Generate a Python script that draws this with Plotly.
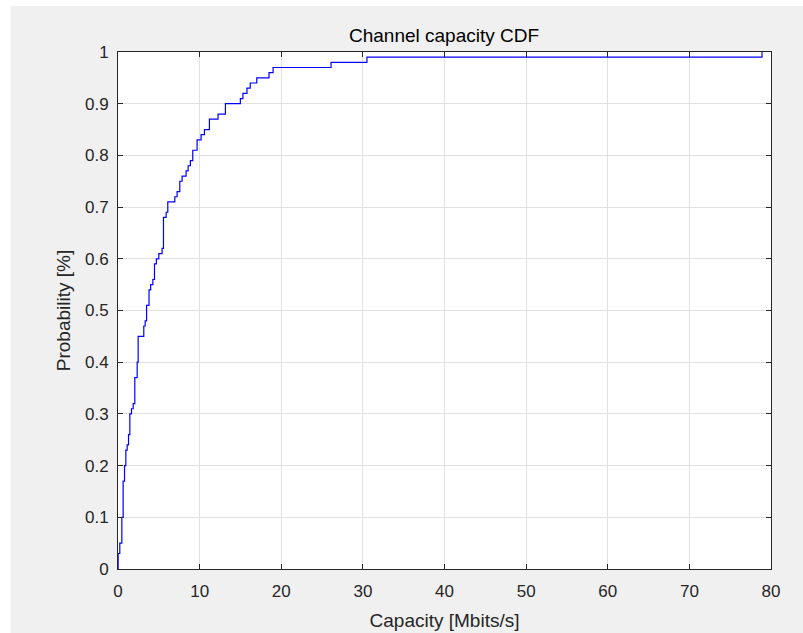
import plotly.graph_objects as go

# Step breakpoints of the empirical CDF (capacity in Mbits/s, cumulative probability)
capacity = [0.0, 0.02, 0.22, 0.47, 0.63, 0.80, 0.96, 1.12, 1.29, 1.45, 1.65, 1.86,
            2.06, 2.35, 2.47, 3.16, 3.33, 3.50, 3.80, 4.00, 4.27, 4.47, 4.70, 5.00,
            5.40, 5.57, 5.90, 6.10, 6.96, 7.24, 7.57, 7.85, 8.34, 8.59, 8.87, 9.16,
            9.69, 10.18, 10.59, 11.20, 12.26, 13.16, 14.99, 15.30, 15.80, 16.20,
            17.00, 18.50, 19.00, 26.10, 30.50, 78.90]
probability = [0.0, 0.03, 0.05, 0.10, 0.17, 0.20, 0.23, 0.24, 0.26, 0.30, 0.31, 0.32,
               0.37, 0.40, 0.45, 0.47, 0.48, 0.51, 0.54, 0.55, 0.56, 0.59, 0.60, 0.61,
               0.62, 0.68, 0.69, 0.71, 0.72, 0.73, 0.75, 0.76, 0.77, 0.78, 0.79, 0.81,
               0.83, 0.84, 0.85, 0.87, 0.88, 0.90, 0.91, 0.92, 0.93, 0.94,
               0.95, 0.96, 0.97, 0.98, 0.99, 1.00]

x_ticks = [0, 10, 20, 30, 40, 50, 60, 70, 80]
y_ticks = [0, 0.1, 0.2, 0.3, 0.4, 0.5, 0.6, 0.7, 0.8, 0.9, 1]
y_tick_labels = ["0", "0.1", "0.2", "0.3", "0.4", "0.5", "0.6", "0.7", "0.8", "0.9", "1"]

FONT = "Liberation Sans, Arial, sans-serif"
AX = "#262626"

fig = go.Figure()
fig.add_trace(go.Scatter(x=capacity, y=probability, mode="lines",
                         line=dict(color="#0000ff", width=1.2, shape="hv"),
                         showlegend=False, hoverinfo="x+y"))

W, H = 803, 633
L, R, T, B = 117.5, 32, 52, 63.5
pw, ph = W - L - R, H - T - B

axis_common = dict(showline=True, linecolor=AX, linewidth=1, mirror="ticks",
                   ticks="inside", ticklen=5, tickcolor=AX, tickwidth=1,
                   showgrid=True, gridcolor="#e1e1e1", gridwidth=1, automargin=False,
                   zeroline=False, tickfont=dict(family=FONT, size=17, color=AX),
                   title_font=dict(family=FONT, size=19, color=AX))

fig.update_layout(
    width=W, height=H,
    margin=dict(l=L, r=R, t=T, b=B, pad=0, autoexpand=False),
    paper_bgcolor="#f0f0f0", plot_bgcolor="#ffffff",
    title=dict(text="Channel capacity CDF", x=444 / W,
               xref="container", xanchor="center", y=1 - 35 / H, yref="container",
               yanchor="middle", font=dict(family=FONT, size=19, color="#000000")),
    xaxis=dict(range=[0, 80], tickvals=x_ticks, ticklabelstandoff=7,
               title=dict(text="Capacity [Mbits/s]", standoff=13),
               **axis_common),
    yaxis=dict(range=[0, 1], tickvals=y_ticks, ticktext=y_tick_labels, ticklabelstandoff=5,
               title=dict(text="Probability [%]", standoff=9), **axis_common),
    shapes=[
        dict(type="rect", xref="paper", yref="paper", x0=-L / pw - 0.01, x1=(10 - L) / pw,
             y0=-B / ph - 0.01, y1=(H - T) / ph + 0.01 + T / ph, fillcolor="#ffffff",
             line=dict(width=0), layer="above"),
        dict(type="rect", xref="paper", yref="paper", x0=-L / pw - 0.01, x1=1 + R / pw + 0.01,
             y0=1 + (T - 6) / ph, y1=1 + T / ph + 0.01, fillcolor="#ffffff",
             line=dict(width=0), layer="above"),
    ],
)

fig.write_html("out.html")
